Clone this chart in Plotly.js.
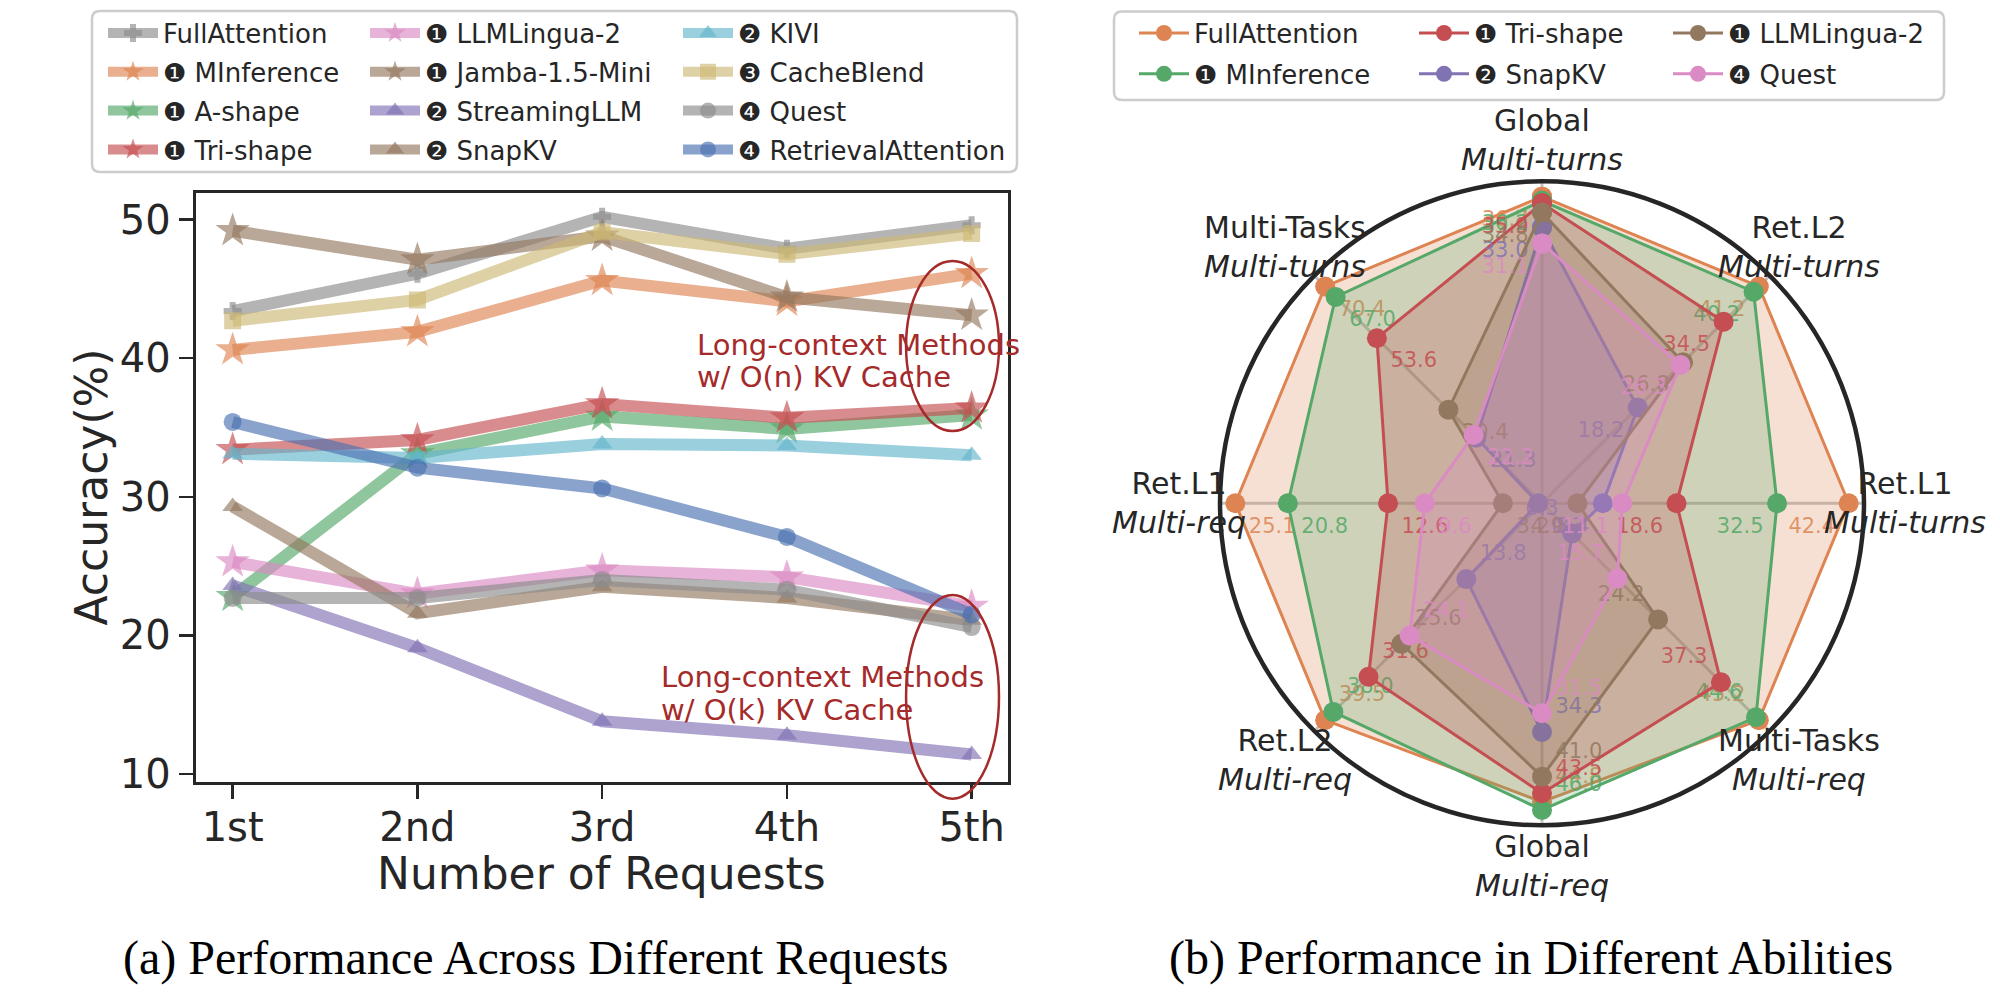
<!DOCTYPE html>
<html><head><meta charset="utf-8">
<script src="https://cdn.plot.ly/plotly-3.0.1.min.js"></script>
<style>html,body{margin:0;padding:0;background:#fff;}</style>
</head><body><div id="chart" style="width:2000px;height:995px;"></div>
<script>
// ---------------- data: panel (a) ----------------
const requests = ['1st', '2nd', '3rd', '4th', '5th'];
const fullAttention      = [43.4, 46.1, 50.2, 47.9, 49.6];
const mInference         = [40.6, 41.9, 45.6, 44.1, 46.1];
const aShape             = [22.8, 33.1, 35.8, 34.9, 35.9];
const triShape           = [33.4, 34.1, 36.7, 35.7, 36.4];
const llmLingua2         = [25.3, 23.0, 24.7, 24.2, 22.1];
const jamba15Mini        = [49.2, 47.1, 48.8, 44.4, 43.1];
const streamingLLM       = [23.6, 19.1, 13.8, 12.8, 11.4];
const snapKV             = [29.3, 21.6, 23.5, 22.7, 21.1];
const kivi               = [33.1, 32.8, 33.8, 33.7, 33.0];
const cacheBlend         = [42.7, 44.2, 49.1, 47.5, 49.0];
const quest              = [22.7, 22.7, 24.0, 23.3, 20.6];
const retrievalAttention = [35.4, 32.1, 30.6, 27.1, 21.5];
const yTicks = [10, 20, 30, 40, 50];

// ---------------- data: panel (b) ----------------
const abilityTop = ['Global', 'Ret.L2', 'Ret.L1', 'Multi-Tasks', 'Global', 'Ret.L2', 'Ret.L1', 'Multi-Tasks'];
const abilitySub = ['Multi-turns', 'Multi-turns', 'Multi-turns', 'Multi-req', 'Multi-req', 'Multi-req', 'Multi-req', 'Multi-turns'];
const radarFullAttention = [36.7, 41.2, 42.4, 45.2, 44.8, 39.5, 25.1, 70.4];
const radarMInference    = [36.2, 40.2, 32.5, 44.6, 46.0, 38.0, 20.8, 67.0];
const radarTriShape      = [35.9, 34.5, 18.6, 37.3, 43.5, 31.6, 12.6, 53.6];
const radarSnapKV        = [33.0, 18.2, 8.4, 6.3, 34.3, 13.8, 0.3, 21.3];
const radarLLMLingua2    = [34.8, 26.8, 4.9, 24.2, 41.0, 25.6, 3.2, 30.4];
const radarQuest         = [31.1, 26.3, 11.1, 15.7, 31.5, 24.1, 9.6, 22.2];

// ---------------- styling ----------------
const W = 2000, H = 995;
const INK = '#262626';
const C = {blue:'76,114,176', orange:'221,132,82', green:'85,168,104', red:'196,78,82',
  purple:'129,114,179', brown:'147,120,96', pink:'218,139,195', gray:'140,140,140',
  olive:'204,185,116', cyan:'100,181,205'};
const rgba = (c, a) => `rgba(${c},${a})`;
const px = x => x / W, py = y => 1 - y / H;

const leftSeries = [
  {name:'FullAttention', y:fullAttention, c:C.gray, sym:'cross', size:15, lg:'legend'},
  {name:'❶ MInference', y:mInference, c:C.orange, sym:'star', size:26, lg:'legend'},
  {name:'❶ A-shape', y:aShape, c:C.green, sym:'star', size:26, lg:'legend'},
  {name:'❶ Tri-shape', y:triShape, c:C.red, sym:'star', size:26, lg:'legend'},
  {name:'❶ LLMLingua-2', y:llmLingua2, c:C.pink, sym:'star', size:26, lg:'legend2'},
  {name:'❶ Jamba-1.5-Mini', y:jamba15Mini, c:C.brown, sym:'star', size:26, lg:'legend2'},
  {name:'❷ StreamingLLM', y:streamingLLM, c:C.purple, sym:'triangle-up', size:18, lg:'legend2'},
  {name:'❷ SnapKV', y:snapKV, c:C.brown, sym:'triangle-up', size:18, lg:'legend2'},
  {name:'❷ KIVI', y:kivi, c:C.cyan, sym:'triangle-up', size:18, lg:'legend3'},
  {name:'❸ CacheBlend', y:cacheBlend, c:C.olive, sym:'square', size:17, lg:'legend3'},
  {name:'❹ Quest', y:quest, c:C.gray, sym:'circle', size:18, lg:'legend3'},
  {name:'❹ RetrievalAttention', y:retrievalAttention, c:C.blue, sym:'circle', size:18, lg:'legend3'},
];

const traces = [];
leftSeries.forEach((s, i) => {
  traces.push({
    type:'scatter', x:requests, y:s.y, name:s.name, mode:'lines+markers',
    line:{color:rgba(s.c,0.65), width:12},
    marker:{symbol:s.sym, size:s.size, color:rgba(s.c,0.65), line:{width:0}},
    xaxis:'x', yaxis:'y', legend:s.lg, legendgroup:'L'+i
  });
});

// radar
const radarSeries = [
  {name:'FullAttention', v:radarFullAttention, c:C.orange, lg:'legend4'},
  {name:'❶ MInference', v:radarMInference, c:C.green, lg:'legend4'},
  {name:'❶ Tri-shape', v:radarTriShape, c:C.red, lg:'legend5'},
  {name:'❷ SnapKV', v:radarSnapKV, c:C.purple, lg:'legend5'},
  {name:'❶ LLMLingua-2', v:radarLLMLingua2, c:C.brown, lg:'legend6'},
  {name:'❹ Quest', v:radarQuest, c:C.pink, lg:'legend6'},
];
const thetas = abilityTop.map((t, i) => t + ' ' + abilitySub[i]);
const axisMax = thetas.map((_, i) => Math.max(...radarSeries.map(s => s.v[i])));
const labelPos = ['bottom left','bottom left','bottom left','top left','top right','top right','bottom right','bottom right'];

radarSeries.forEach((s, k) => {
  const r = s.v.map((v, i) => v / axisMax[i]);
  const rc = r.concat([r[0]]), tc = thetas.concat([thetas[0]]);
  traces.push({type:'scatterpolar', r:r, theta:thetas, mode:'lines', fill:'toself',
    fillcolor:rgba(s.c,0.25), line:{width:0, color:rgba(s.c,0)}, showlegend:false,
    hoverinfo:'skip', subplot:'polar'});
  traces.push({type:'scatterpolar', r:rc, theta:tc, name:s.name, mode:'lines+markers+text',
    line:{color:rgba(s.c,1), width:3}, marker:{size:20, color:rgba(s.c,1)},
    text:s.v.map(v => v.toFixed(1)).concat(['']), textposition:labelPos.concat(['bottom left']),
    textfont:{size:21, color:rgba(s.c,0.85)}, subplot:'polar', legend:s.lg, legendgroup:'R'+k});
});

// ---------------- layout ----------------
const xDom = [195.7 / W, 1007.5 / W];
const yDom = [(H - 782) / H, (H - 193) / H];
const yRange = [9.42, 51.92];
const yToPaper = v => yDom[0] + (v - yRange[0]) / (yRange[1] - yRange[0]) * (yDom[1] - yDom[0]);

const polarDomX = [(1542 - 322) / W, (1542 + 322) / W];
const polarDomY = [(H - 503.3 - 322) / H, (H - 503.3 + 322) / H];
const pcx = (polarDomX[0] + polarDomX[1]) / 2 * W;
const pcy = H - (polarDomY[0] + polarDomY[1]) / 2 * H;
const Rpx = (polarDomX[1] - polarDomX[0]) * W / 2;

function legendAt(xPx, gap) {
  return {x:px(xPx), y:py(9.6), xanchor:'left', yanchor:'top', orientation:'v',
    bgcolor:'rgba(0,0,0,0)', borderwidth:0, itemwidth:50, tracegroupgap:gap,
    font:{size:26, color:INK, family:'DejaVu Sans'}};
}
function roundRect(x0, y0, x1, y1, r) {
  const P = (x, y) => px(x) + ',' + py(y);
  return 'M' + P(x0 + r, y0) + ' L' + P(x1 - r, y0) + ' Q' + P(x1, y0) + ' ' + P(x1, y0 + r) +
    ' L' + P(x1, y1 - r) + ' Q' + P(x1, y1) + ' ' + P(x1 - r, y1) +
    ' L' + P(x0 + r, y1) + ' Q' + P(x0, y1) + ' ' + P(x0, y1 - r) +
    ' L' + P(x0, y0 + r) + ' Q' + P(x0, y0) + ' ' + P(x0 + r, y0) + ' Z';
}

const RED = '#A52A2A';
const note = (x, y, text) => ({xref:'x', yref:'y', x:x, y:y, xanchor:'left', yanchor:'middle', text:text,
  showarrow:false, font:{size:29, color:RED}});
const paperText = (x, y, text, font, extra) => Object.assign({xref:'paper', yref:'paper', x:x, y:y,
  xanchor:'center', yanchor:'middle', text:text, showarrow:false, font:font}, extra || {});
const annotations = [
  note(2.503, 40.95, 'Long-context Methods'),
  note(2.503, 38.67, 'w/ O(n) KV Cache'),
  note(2.31, 17.02, 'Long-context Methods'),
  note(2.31, 14.63, 'w/ O(k) KV Cache'),
  paperText(px(91), py(487.5), 'Accuracy(%)', {size:44, color:INK}, {textangle:-90}),
  paperText(px(601.6), py(873), 'Number of Requests', {size:44, color:INK}),
  paperText(px(536), py(958), '(a) Performance Across Different Requests', {size:48, color:'#000', family:'Liberation Serif'}),
  paperText(px(1531), py(958), '(b) Performance in Different Abilities', {size:48, color:'#000', family:'Liberation Serif'}),
];
abilityTop.forEach((t, i) => {
  const ang = (90 - 45 * i) * Math.PI / 180, d = Rpx * 1.127;
  annotations.push(paperText((pcx + d * Math.cos(ang)) / W, (H - (pcy - d * Math.sin(ang))) / H,
    t + '<br><i>' + abilitySub[i] + '</i>', {size:30, color:INK}));
});

const shapes = [
  {type:'circle', xref:'x', yref:'y', x0:3.645, x1:4.148, y0:34.75, y1:47.01, line:{color:RED, width:2.5}},
  {type:'circle', xref:'x', yref:'paper', x0:3.645, x1:4.148, y0:yToPaper(8.22), y1:yToPaper(22.91), line:{color:RED, width:2.5}},
  {type:'path', xref:'paper', yref:'paper', path:roundRect(92, 11, 1017, 172, 8), line:{color:'#cccccc', width:2.5}, fillcolor:'rgba(0,0,0,0)'},
  {type:'path', xref:'paper', yref:'paper', path:roundRect(1114, 11.5, 1944, 100, 8), line:{color:'#cccccc', width:2.5}, fillcolor:'rgba(0,0,0,0)'},
];

const axisCommon = {showline:true, mirror:true, linecolor:INK, linewidth:3, ticks:'outside', ticklen:14,
  tickwidth:2.5, tickcolor:INK, tickfont:{size:40, color:INK}, showgrid:false, zeroline:false};

const layout = {
  width:W, height:H, margin:{l:0, r:0, t:0, b:0}, paper_bgcolor:'white', plot_bgcolor:'white',
  font:{family:'DejaVu Sans', color:INK},
  xaxis:Object.assign({}, axisCommon, {domain:xDom, type:'category', categoryarray:requests, range:[-0.2, 4.194], ticklabelstandoff:-6}),
  yaxis:Object.assign({}, axisCommon, {domain:yDom, range:yRange, tickvals:yTicks}),
  polar:{domain:{x:polarDomX, y:polarDomY}, bgcolor:'white',
    radialaxis:{range:[0, 1.05], visible:false, showgrid:false},
    angularaxis:{type:'category', categoryarray:thetas, direction:'clockwise', rotation:90,
      showline:true, linecolor:INK, linewidth:4.5, showgrid:true, gridcolor:'rgba(120,120,120,0.45)',
      gridwidth:3, showticklabels:false, ticks:''}},
  legend:legendAt(103, 2), legend2:legendAt(365, 2), legend3:legendAt(678, 2),
  legend4:legendAt(1134, 4), legend5:legendAt(1414, 4), legend6:legendAt(1668, 4),
  annotations:annotations, shapes:shapes, showlegend:true
};

Plotly.newPlot('chart', traces, layout, {staticPlot:true, displayModeBar:false});
</script></body></html>
